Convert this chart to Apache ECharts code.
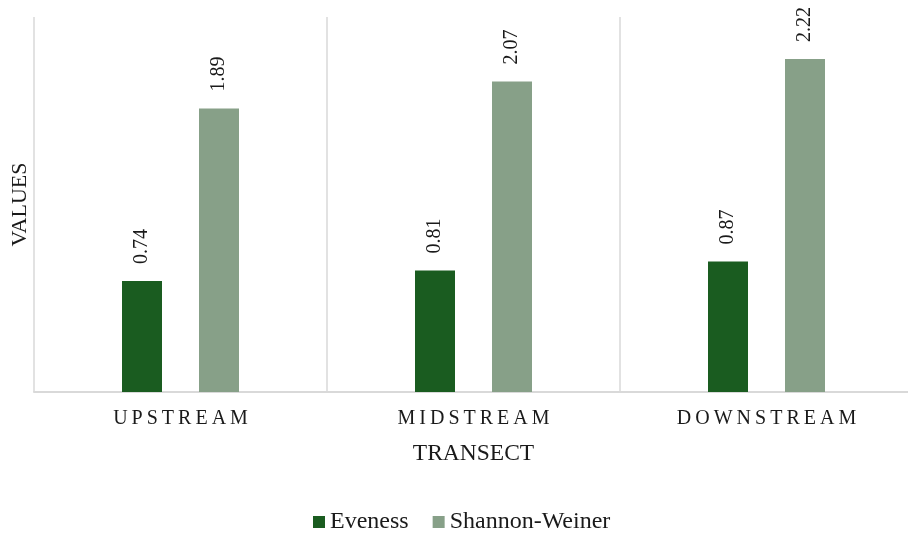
<!DOCTYPE html>
<html>
<head>
<meta charset="utf-8">
<script src="https://cdn.jsdelivr.net/npm/echarts@6/dist/echarts.min.js"></script>
<style>
  html, body { margin: 0; padding: 0; background: #ffffff; }
  #chart { width: 908px; height: 533px; }
</style>
</head>
<body>
<div id="chart"></div>
<script>
// Diversity indices per transect section
const categories = ['UPSTREAM', 'MIDSTREAM', 'DOWNSTREAM'];
const evenness = [0.74, 0.81, 0.87];
const shannonWeiner = [1.89, 2.07, 2.22];
const seriesNames = ['Eveness', 'Shannon-Weiner'];

const serif = "'Liberation Serif', 'Times New Roman', serif";
const THIN = '\u2009';

const valueLabel = {
  show: true,
  position: 'top',
  rotate: 90,
  align: 'left',
  verticalAlign: 'middle',
  distance: 17,
  fontFamily: serif,
  fontSize: 20,
  color: '#1a1a1a',
  formatter: p => p.value.toFixed(2)
};

const chart = echarts.init(document.getElementById('chart'), null, { renderer: 'canvas' });
chart.setOption({
  animation: false,
  backgroundColor: '#ffffff',
  grid: {
    left: 34, right: -5, top: 17, bottom: 141,
    containLabel: false,
    outerBoundsMode: 'none'
  },
  legend: {
    data: seriesNames,
    top: 505,
    left: 308,
    itemWidth: 12,
    itemHeight: 12,
    itemGap: 24,
    icon: 'rect',
    textStyle: { fontFamily: serif, fontSize: 24, color: '#1a1a1a' }
  },
  xAxis: {
    type: 'category',
    data: categories,
    name: 'TRANSECT',
    nameLocation: 'middle',
    nameGap: 50,
    nameTextStyle: { fontFamily: serif, fontSize: 23.5, color: '#1a1a1a' },
    axisLine: { show: true, lineStyle: { color: '#d9d9d9', width: 2 } },
    axisTick: { show: false },
    axisLabel: {
      margin: 17,
      fontFamily: serif,
      fontSize: 20,
      color: '#1a1a1a',
      formatter: v => v.split('').join(THIN)
    },
    splitLine: { show: true, lineStyle: { color: '#d9d9d9', width: 1.5 } }
  },
  yAxis: {
    type: 'value',
    min: 0,
    max: 2.5,
    name: 'VALUES',
    nameLocation: 'middle',
    nameRotate: 90,
    nameGap: 3,
    nameTextStyle: { fontFamily: serif, fontSize: 22, color: '#1a1a1a' },
    axisLine: { show: false },
    axisTick: { show: false },
    axisLabel: { show: false },
    splitLine: { show: false }
  },
  series: [
    {
      name: seriesNames[0],
      type: 'bar',
      data: evenness,
      barWidth: 40,
      barGap: '92.5%',
      itemStyle: { color: '#1a5c20' },
      label: valueLabel
    },
    {
      name: seriesNames[1],
      type: 'bar',
      data: shannonWeiner,
      barWidth: 40,
      itemStyle: { color: '#87a088' },
      label: valueLabel
    }
  ]
});
</script>
</body>
</html>
